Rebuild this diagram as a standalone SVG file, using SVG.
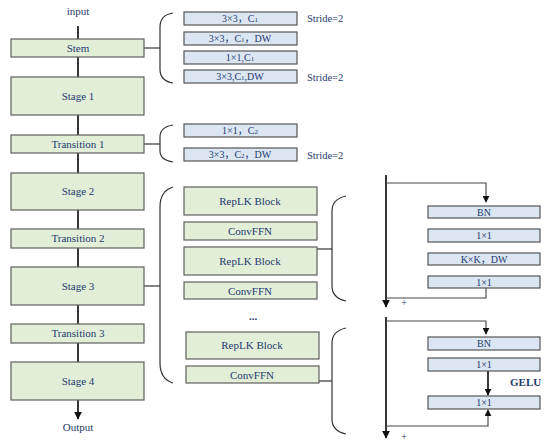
<svg xmlns="http://www.w3.org/2000/svg" width="550" height="447" viewBox="0 0 550 447">
<defs>
<marker id="ah" viewBox="0 0 10 10" refX="9" refY="5" markerWidth="8" markerHeight="8" markerUnits="userSpaceOnUse" orient="auto">
<path d="M0,0 L10,5 L0,10 Z" fill="#111"/>
</marker>
<marker id="ahs" viewBox="0 0 10 10" refX="9" refY="5" markerWidth="7" markerHeight="7" markerUnits="userSpaceOnUse" orient="auto">
<path d="M0,0 L10,5 L0,10 Z" fill="#111"/>
</marker>
</defs>
<style>
.g{fill:#e3eed8;stroke:#5f5f5f;stroke-width:1.2}
.b{fill:#dbe6f2;stroke:#555;stroke-width:1.2}
.t{font-family:"Liberation Serif","Times New Roman",serif;fill:#1f3a70;text-anchor:middle}
.m{font-size:11px}
.s{font-size:10px}
.st{font-family:"Liberation Serif","Times New Roman",serif;fill:#1f3a70;font-size:10.5px}
.cj{font-family:"Liberation Serif","Noto Sans CJK SC",serif}
.ln{fill:none;stroke:#222;stroke-width:1.8}
.br{fill:none;stroke:#333;stroke-width:1.2}
.thin{fill:none;stroke:#444;stroke-width:1.1}
</style>
<rect width="550" height="447" fill="#fff"/>

<g id="connectors">
<line class="ln" x1="78" y1="26" x2="78" y2="39"/>
<line class="ln" x1="78" y1="57" x2="78" y2="77"/>
<line class="ln" x1="78" y1="115" x2="78" y2="135"/>
<line class="ln" x1="78" y1="153" x2="78" y2="173"/>
<line class="ln" x1="78" y1="210" x2="78" y2="229"/>
<line class="ln" x1="78" y1="248" x2="78" y2="267"/>
<line class="ln" x1="78" y1="305" x2="78" y2="324"/>
<line class="ln" x1="78" y1="343" x2="78" y2="362"/>
<line class="ln" x1="78" y1="400" x2="78" y2="419" marker-end="url(#ah)"/>

<line class="br" x1="144" y1="48" x2="160" y2="48"/>
<path class="br" d="M173,13 Q160,15 160,27 L160,69 Q160,81 173,83"/>
<line class="br" x1="144" y1="144" x2="160" y2="144"/>
<path class="br" d="M173,125 Q160,127 160,137 L160,151 Q160,160 173,162"/>
<line class="br" x1="144" y1="286" x2="160" y2="286"/>
<path class="br" d="M173,187 Q160,191 160,207 L160,363 Q160,379 173,383"/>
<line class="br" x1="317" y1="249" x2="332" y2="249"/>
<path class="br" d="M346,196 Q332,199 332,211 L332,286 Q332,298 346,301"/>
<line class="br" x1="319" y1="381" x2="332" y2="381"/>
<path class="br" d="M346,328 Q332,331 332,343 L332,419 Q332,431 346,434"/>

<line class="ln" x1="386" y1="175" x2="386" y2="307" marker-end="url(#ah)"/>
<polyline class="thin" points="386,183 486,183 486,202" marker-end="url(#ahs)"/>
<polyline class="thin" points="486,288 486,298 386,298"/>
<line class="ln" x1="386" y1="317" x2="386" y2="438" marker-end="url(#ah)"/>
<polyline class="thin" points="386,321 486,321 486,334" marker-end="url(#ahs)"/>
<line class="ln" x1="488" y1="371" x2="488" y2="395" marker-end="url(#ahs)"/>
<polyline class="thin" points="386,426 488,426 488,410" marker-end="url(#ahs)"/>
</g>

<text class="t m" x="78" y="15">input</text>
<text class="t m" x="78" y="431">Output</text>

<g id="stem"><rect class="g" x="11" y="39" width="133" height="18"/><text class="t m" x="78" y="52">Stem</text></g>
<g id="stage1"><rect class="g" x="11" y="77" width="133" height="38"/><text class="t m" x="78" y="100">Stage 1</text></g>
<g id="transition1"><rect class="g" x="11" y="135" width="133" height="18"/><text class="t m" x="78" y="148">Transition 1</text></g>
<g id="stage2"><rect class="g" x="11" y="173" width="133" height="37"/><text class="t m" x="78" y="195">Stage 2</text></g>
<g id="transition2"><rect class="g" x="11" y="229" width="133" height="19"/><text class="t m" x="78" y="242">Transition 2</text></g>
<g id="stage3"><rect class="g" x="11" y="267" width="133" height="38"/><text class="t m" x="78" y="290">Stage 3</text></g>
<g id="transition3"><rect class="g" x="11" y="324" width="133" height="19"/><text class="t m" x="78" y="337">Transition 3</text></g>
<g id="stage4"><rect class="g" x="11" y="362" width="133" height="38"/><text class="t m" x="78" y="385">Stage 4</text></g>

<g id="stem-conv1"><rect class="b" x="184" y="12" width="113" height="13"/><text class="t s cj" x="240" y="22">3×3，C<tspan font-size="7">1</tspan></text></g>
<g id="stem-conv2"><rect class="b" x="184" y="32" width="113" height="13"/><text class="t s cj" x="240" y="42">3×3，C<tspan font-size="7">1</tspan>，DW</text></g>
<g id="stem-conv3"><rect class="b" x="184" y="51" width="113" height="13"/><text class="t s" x="240" y="61">1×1,C<tspan font-size="7">1</tspan></text></g>
<g id="stem-conv4"><rect class="b" x="184" y="70" width="113" height="13"/><text class="t s" x="240" y="80">3×3,C<tspan font-size="7">1</tspan>,DW</text></g>
<text class="st" x="307" y="22">Stride=2</text>
<text class="st" x="307" y="81">Stride=2</text>

<g id="trans-conv1"><rect class="b" x="184" y="124" width="113" height="13"/><text class="t s cj" x="240" y="134">1×1，C<tspan font-size="7">2</tspan></text></g>
<g id="trans-conv2"><rect class="b" x="184" y="148" width="113" height="13"/><text class="t s cj" x="240" y="158">3×3，C<tspan font-size="7">2</tspan>，DW</text></g>
<text class="st" x="307" y="159">Stride=2</text>

<g id="replk1"><rect class="g" x="184" y="187" width="133" height="28"/><text class="t m" x="250" y="205">RepLK Block</text></g>
<g id="convffn1"><rect class="g" x="184" y="222" width="133" height="18"/><text class="t m" x="250" y="235">ConvFFN</text></g>
<g id="replk2"><rect class="g" x="184" y="247" width="133" height="28"/><text class="t m" x="250" y="265">RepLK Block</text></g>
<g id="convffn2"><rect class="g" x="184" y="282" width="133" height="17"/><text class="t m" x="250" y="295">ConvFFN</text></g>
<text class="t m" x="253" y="320" font-weight="bold">...</text>
<g id="replk3"><rect class="g" x="186" y="332" width="133" height="27"/><text class="t m" x="252" y="349">RepLK Block</text></g>
<g id="convffn3"><rect class="g" x="186" y="366" width="133" height="17"/><text class="t m" x="252" y="379">ConvFFN</text></g>

<g id="bn1"><rect class="b" x="428" y="206" width="112" height="12"/><text class="t s" x="484" y="216">BN</text></g>
<g id="pw1"><rect class="b" x="428" y="229" width="112" height="13"/><text class="t s" x="484" y="239">1×1</text></g>
<g id="dw"><rect class="b" x="428" y="253" width="112" height="12"/><text class="t s cj" x="484" y="263">K×K，DW</text></g>
<g id="pw2"><rect class="b" x="428" y="276" width="112" height="12"/><text class="t s" x="484" y="286">1×1</text></g>
<text class="t s" x="404" y="306">+</text>

<g id="bn2"><rect class="b" x="428" y="337" width="112" height="13"/><text class="t s" x="484" y="347">BN</text></g>
<g id="pw3"><rect class="b" x="428" y="358" width="112" height="13"/><text class="t s" x="484" y="368">1×1</text></g>
<text x="510" y="386" font-family="Liberation Serif, serif" font-size="11" font-weight="bold" fill="#1f3a70">GELU</text>
<g id="pw4"><rect class="b" x="428" y="396" width="112" height="13"/><text class="t s" x="484" y="406">1×1</text></g>
<text class="t s" x="404" y="440">+</text>
</svg>
